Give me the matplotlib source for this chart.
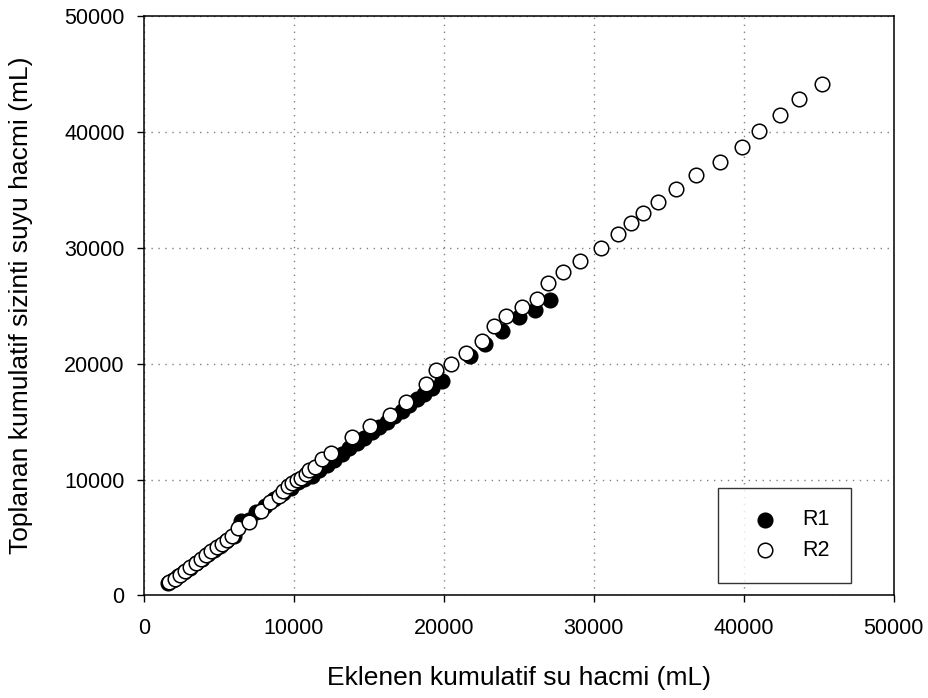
import matplotlib
matplotlib.use("Agg")
import matplotlib.pyplot as plt

plt.rcParams["font.family"] = ["Liberation Sans", "DejaVu Sans"]

# Cumulative added water (x) vs. collected leachate (y), mL
r1_x = [1600, 1950, 2300, 2700, 3100, 3500, 3900, 4300, 4700, 5100, 5500, 6000,
        6450, 7000, 7450, 8100, 8700, 9300, 9800, 10300, 10700,
        11200, 11700, 12200, 12700, 13200, 13700, 14200, 14700, 15200, 15700,
        16200, 16700, 17200, 17700, 18200, 18700, 19200, 19900,
        21730, 22730, 23890, 25000, 26110, 27070]
r1_y = [1050, 1350, 1650, 2000, 2400, 2800, 3150, 3550, 3900, 4300, 4700, 5150,
        6380, 6500, 7200, 7700, 8300, 8800, 9300, 9750, 10050,
        10300, 10800, 11250, 11700, 12200, 12700, 13150, 13600, 14100, 14550,
        15000, 15500, 15950, 16450, 16950, 17400, 17900, 18500,
        20690, 21690, 22830, 24030, 24610, 25490]

r2_x = [1700, 2050, 2400, 2750, 3100, 3450, 3800, 4150, 4500, 4850, 5200, 5550,
        5900, 6300, 7000, 7800, 8400, 9000, 9300, 9600, 9900, 10200, 10500,
        10800, 11000, 11400, 11900, 12500, 13900, 15100, 16400, 17500, 18800,
        19500, 20450, 21500, 22550, 23350, 24150, 25200, 26200, 26950, 27950,
        29100, 30500, 31600, 32500, 33300, 34300, 35500, 36800, 38400, 39900,
        41000, 42400, 43700, 45250]
r2_y = [1150, 1450, 1800, 2100, 2450, 2800, 3100, 3450, 3800, 4150, 4450, 4800,
        5150, 5850, 6350, 7250, 8050, 8600, 9050, 9400, 9700, 9950, 10150,
        10450, 10800, 11100, 11800, 12250, 13650, 14650, 15600, 16700, 18250,
        19450, 20000, 20950, 21950, 23250, 24100, 24900, 25600, 26950, 27900,
        28850, 29950, 31200, 32100, 33000, 33950, 35050, 36300, 37400, 38700,
        40100, 41500, 42800, 44150]

fig = plt.figure(figsize=(9.29, 6.98), dpi=100)
ax = fig.add_axes([0.155, 0.147, 0.807, 0.830])

ax.scatter(r1_x, r1_y, s=110, facecolor="black", edgecolor="black",
           linewidths=1.1, label="R1", zorder=3)
ax.scatter(r2_x, r2_y, s=110, facecolor="white", edgecolor="black",
           linewidths=1.1, label="R2", zorder=4)

ax.set_xlim(0, 50000)
ax.set_ylim(0, 50000)
ax.set_xticks(range(0, 50001, 10000))
ax.set_yticks(range(0, 50001, 10000))
ax.grid(True, color="#808080", linestyle=(0, (1, 4)), linewidth=1.0)
ax.set_axisbelow(True)

for spine in ax.spines.values():
    spine.set_linewidth(1.1)
    spine.set_color("black")
ax.tick_params(axis="both", direction="out", length=5, width=1.0,
               labelsize=15.5, top=False, right=False)
ax.tick_params(axis="x", pad=11)
ax.tick_params(axis="y", pad=9)

ax.set_xlabel("Eklenen kumulatif su hacmi (mL)", fontsize=19, labelpad=20)
ax.set_ylabel("Toplanan kumulatif sizinti suyu hacmi (mL)", fontsize=19,
              labelpad=22)

leg = ax.legend(loc="lower right", bbox_to_anchor=(0.943, 0.022),
                fontsize=15.5, markerscale=1.0, frameon=True, fancybox=False,
                borderpad=1.0, handletextpad=0.5, borderaxespad=0,
                labelspacing=0.45, handlelength=2.4)
leg.get_frame().set_edgecolor("black")
leg.get_frame().set_linewidth(1.0)

fig.savefig("out.png", dpi=100)
